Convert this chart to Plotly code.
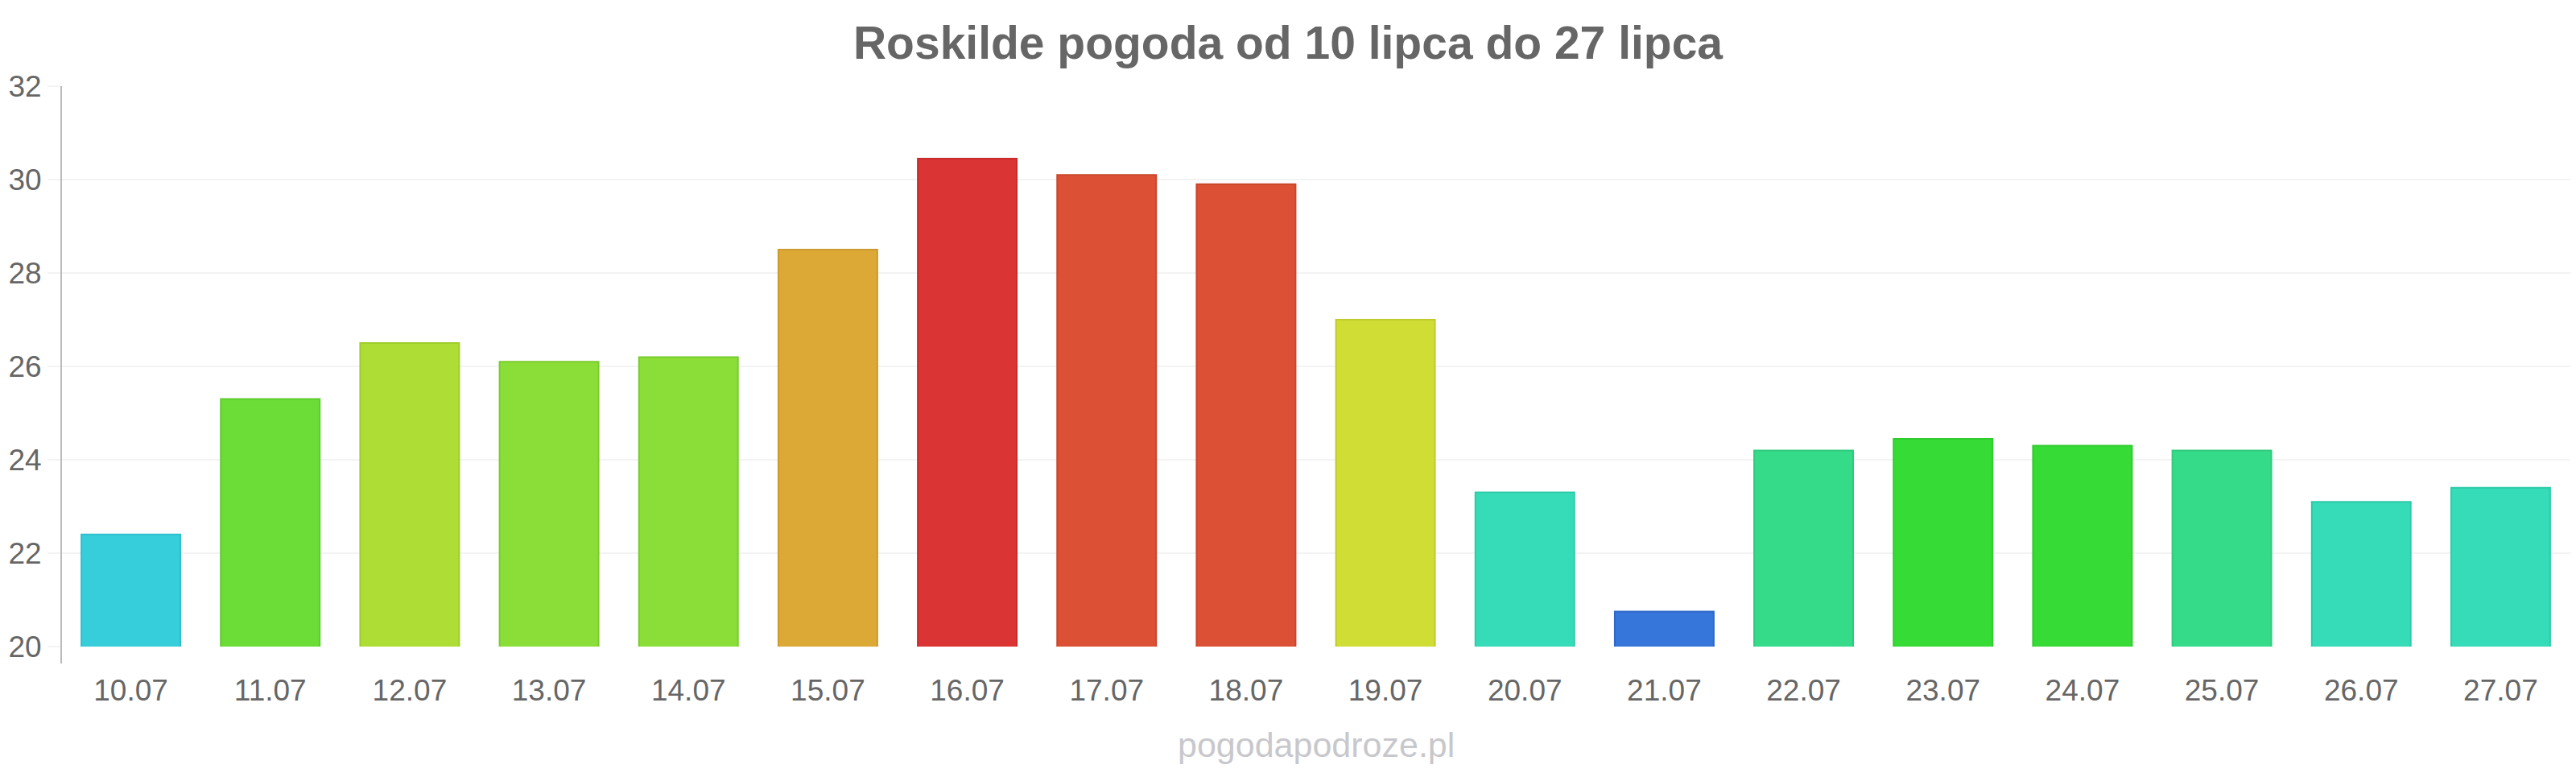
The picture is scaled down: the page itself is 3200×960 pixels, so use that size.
import plotly.graph_objects as go

dates = ["10.07", "11.07", "12.07", "13.07", "14.07", "15.07", "16.07", "17.07", "18.07",
         "19.07", "20.07", "21.07", "22.07", "23.07", "24.07", "25.07", "26.07", "27.07"]
temps = [22.4, 25.3, 26.5, 26.1, 26.2, 28.5, 30.45, 30.1, 29.9,
         27.0, 23.3, 20.75, 24.2, 24.45, 24.3, 24.2, 23.1, 23.4]
colors = ["#36CEDA", "#6CDC37", "#AEDE35", "#8ADE37", "#8ADE37", "#DCA936", "#DA3434", "#DC5035", "#DC5035",
          "#CFDD35", "#36DBB8", "#3676DA", "#36DB8A", "#36DB36", "#36DB36", "#36DB8A", "#36DBB8", "#36DBB8"]
line_colors = ["#2EBFCB", "#5FCB2E", "#9ECC2C", "#7ACC2E", "#7ACC2E", "#CC9A2E", "#C92B2B", "#CB452C", "#CB452C",
               "#BFCC2C", "#2ECBA8", "#2E68CB", "#2ECB7C", "#2ECB2E", "#2ECB2E", "#2ECB7C", "#2ECBA8", "#2ECBA8"]

title_text = "Roskilde pogoda od 10 lipca do 27 lipca"
watermark = "pogodapodroze.pl"
font_family = "Liberation Sans, Arial, sans-serif"

fig = go.Figure(go.Bar(
    x=dates, y=temps,
    marker=dict(color=colors, line=dict(color=line_colors, width=2)),
    width=0.71,
))

fig.update_layout(
    width=3200, height=960,
    margin=dict(l=76, r=7, t=107, b=157),
    paper_bgcolor="white", plot_bgcolor="white",
    showlegend=False,
    font=dict(family=font_family, color="#666666"),
    title=dict(text="<b>" + title_text + "</b>", x=0.5, xanchor="center",
               y=1 - 53 / 960, yanchor="middle", yref="container",
               font=dict(size=57, color="#666666", family=font_family)),
    bargap=0.29,
)

fig.update_xaxes(
    type="category", range=[-0.5, 17.5],
    showgrid=False, showline=False, zeroline=False,
    ticks="outside", ticklen=22, tickcolor="rgba(0,0,0,0)",
    tickfont=dict(size=37, color="#666666", family=font_family),
)
fig.update_yaxes(
    range=[20, 32], dtick=2, tick0=20,
    showgrid=True, gridcolor="#F3F3F3", gridwidth=2,
    showline=False, zeroline=False,
    ticks="outside", ticklen=16, tickcolor="#F3F3F3", tickwidth=2,
    tickfont=dict(size=37, color="#666666", family=font_family),
)

# vertical axis line extending slightly below the baseline
fig.add_shape(type="line", xref="paper", yref="paper", x0=0, x1=0, y0=-0.03, y1=1,
              line=dict(color="#BBBBBB", width=2), layer="above")

fig.add_annotation(text=watermark, xref="paper", yref="paper", x=0.5, y=-0.175,
                   xanchor="center", yanchor="middle", showarrow=False,
                   font=dict(size=43, color="#C8C8CC", family=font_family))

fig.write_html("out.html")
